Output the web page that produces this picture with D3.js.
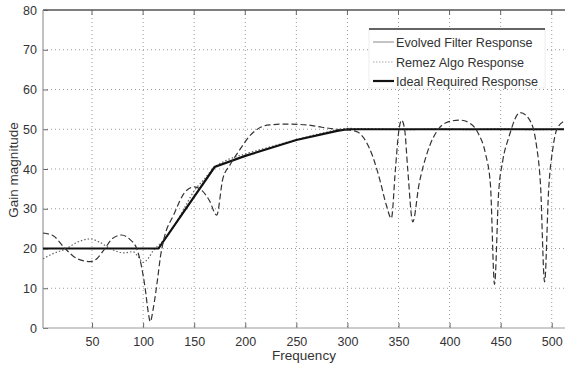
<!DOCTYPE html>
<html><head><meta charset="utf-8">
<script src="https://cdn.jsdelivr.net/npm/d3@7"></script>
<style>body{margin:0;background:#fff}svg{display:block}text{font-family:"Liberation Sans",Arial,sans-serif;fill:#333}</style>
</head><body>
<svg id="c" width="565" height="368"></svg>
<script>
const xTicks=[50,100,150,200,250,300,350,400,450,500];
const yTicks=[0,10,20,30,40,50,60,70,80];
const legendLabels=["Evolved Filter Response","Remez Algo Response","Ideal Required Response"];
const evolvedF=[2,12,23.6,35,48,55,62.6,70,79,87,93.7,98,102,105,107,110,114,117,120,130,141,150,158,165,172,178,185,195,205,215,224,240,260,275,290,300,309,318,325,332,338,343,347,350,353,356,359,364,370,378,389,398,410,420,428,435,440,444,448,452,458,469,478,485,489,493,497,501,505,512];
const evolvedG=[23.9,23.2,20,17.5,16.7,17.5,20,22.5,23.4,22.3,20,16,10,4,1.6,5,12,18,22,28.5,34.2,35.5,34.5,32,28.4,37.5,41,45,48.5,50.5,51.1,51.3,51.1,50.5,50,49.8,49.4,47,43,37,31,27.6,40,49,52.3,50,40,26.7,36,44,50,51.8,52.3,51.5,49,44,36,11,34,42,48,54.2,52.5,46,36,11.6,35,45,50,52];
const remezF=[2,10,25,35,48,58,67.6,75,82,90,95,100,105,110,118,130,140,150,160,170,180,200,225,250,275,300,330,360,390,420,450,480,512];
const remezG=[17.4,18.5,20,21.5,22.4,21.5,20,19.2,18.9,19.2,18,16.5,17.5,19.5,21.5,25.5,30,34.5,37.5,40.5,42,43.8,45.6,47.4,49,50.2,50.1,49.9,50.1,49.9,50.1,49.9,50];
const idealF=[2,115,170,200,250,290,300,512];
const idealG=[20,20,40.5,43.3,47.3,49.6,50,50];

const svg=d3.select("#c");
const x=d3.scaleLinear().domain([2,512]).range([43,564]);
const y=d3.scaleLinear().domain([0,80]).range([328,10]);
const L=43,R=565,T=10,B=328;

// grid
const g=svg.append("g");
g.selectAll(".gx").data(xTicks).join("line").attr("x1",d=>x(d)).attr("x2",d=>x(d)).attr("y1",T).attr("y2",B)
 .attr("stroke","#999").attr("stroke-width",1).attr("stroke-dasharray","1,3");
g.selectAll(".gy").data(yTicks.filter(d=>d>0&&d<80)).join("line").attr("y1",d=>y(d)).attr("y2",d=>y(d)).attr("x1",L).attr("x2",R)
 .attr("stroke","#999").attr("stroke-width",1).attr("stroke-dasharray","1,3");

// axes
const xa=svg.append("g").attr("transform",`translate(0,${B})`).call(d3.axisBottom(x).tickValues(xTicks).tickSize(-5).tickPadding(9));
const ya=svg.append("g").attr("transform",`translate(${L},0)`).call(d3.axisLeft(y).tickValues(yTicks).tickSize(-5).tickPadding(6));
[xa,ya].forEach(a=>{a.select(".domain").remove();a.selectAll("line").attr("stroke","#666");a.selectAll("text").attr("font-size",12.5).attr("fill","#333").style("font-family","'Liberation Sans',Arial,sans-serif");});
// top ticks
svg.selectAll(".tt").data(xTicks).join("line").attr("x1",d=>x(d)).attr("x2",d=>x(d)).attr("y1",T).attr("y2",T+5).attr("stroke","#666");
// frame
svg.append("line").attr("x1",L).attr("x2",R).attr("y1",T).attr("y2",T).attr("stroke","#555").attr("stroke-width",1.5);
svg.append("line").attr("x1",L).attr("x2",L).attr("y1",T).attr("y2",B).attr("stroke","#999").attr("stroke-width",1.2);
svg.append("line").attr("x1",L).attr("x2",R).attr("y1",B).attr("y2",B).attr("stroke","#999").attr("stroke-width",1.2);

// curves
const line=d3.line().x(d=>x(d[0])).y(d=>y(d[1])).curve(d3.curveMonotoneX);
const lin=d3.line().x(d=>x(d[0])).y(d=>y(d[1]));
svg.append("clipPath").attr("id","cp").append("rect").attr("x",L).attr("y",T).attr("width",R-L).attr("height",B-T);
const plot=svg.append("g").attr("clip-path","url(#cp)");
plot.append("path").attr("d",line(remezF.map((f,i)=>[f,remezG[i]]))).attr("fill","none").attr("stroke","#666").attr("stroke-width",1.2).attr("stroke-dasharray","1.5,2");
plot.append("path").attr("d",lin(idealF.map((f,i)=>[f,idealG[i]]))).attr("fill","none").attr("stroke","#111").attr("stroke-width",2.2);
plot.append("path").attr("d",line(evolvedF.map((f,i)=>[f,evolvedG[i]]))).attr("fill","none").attr("stroke","#333").attr("stroke-width",1.2).attr("stroke-dasharray","6,3");

// legend
const lg=svg.append("g");
lg.append("rect").attr("x",369).attr("y",29).attr("width",176).attr("height",59).attr("fill","#fff").attr("stroke","#eee");
lg.append("line").attr("x1",369).attr("x2",545).attr("y1",29).attr("y2",29).attr("stroke","#333").attr("stroke-width",1.5);
const ly=[42,62,81];
const lstyle=[{c:"#888",w:1,d:null},{c:"#aaa",w:1.2,d:"1.5,1.5"},{c:"#111",w:2.2,d:null}];
legendLabels.forEach((t,i)=>{
  lg.append("line").attr("x1",373).attr("x2",394).attr("y1",ly[i]).attr("y2",ly[i]).attr("stroke",lstyle[i].c).attr("stroke-width",lstyle[i].w).attr("stroke-dasharray",lstyle[i].d);
  lg.append("text").attr("x",396).attr("y",ly[i]+4.5).attr("font-size",12.6).text(t);
});

// axis titles
svg.append("text").attr("x",304).attr("y",360).attr("text-anchor","middle").attr("font-size",13.5).text("Frequency");
svg.append("text").attr("transform","translate(18,170) rotate(-90)").attr("text-anchor","middle").attr("font-size",13.5).text("Gain magnitude");
</script>
</body></html>
